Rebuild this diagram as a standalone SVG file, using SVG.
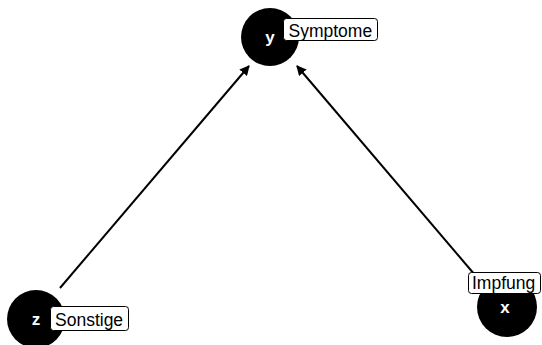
<svg xmlns="http://www.w3.org/2000/svg" width="542" height="345" viewBox="0 0 542 345">
<style>
.node{fill:#000}
.nt{fill:#fff;font-family:"Liberation Sans",Arial,sans-serif;font-size:17px;font-weight:bold;text-anchor:middle}
.lb{fill:#fff;stroke:#000;stroke-width:1}
.lt{fill:#000;font-family:"Liberation Sans",Arial,sans-serif;font-size:17.5px}
.edge{stroke:#000;stroke-width:2;fill:none;marker-end:url(#ah)}
</style>
<defs>
<marker id="ah" viewBox="0 0 10 10" refX="9" refY="5" markerWidth="5" markerHeight="5" orient="auto" markerUnits="strokeWidth">
<path d="M0,0 L10,5 L0,10 z" fill="#000"/>
</marker>
</defs>
<rect width="542" height="345" fill="#fff"/>
<g id="connectors">
<line class="edge" x1="60" y1="288" x2="249" y2="66"/>
<line class="edge" x1="475" y1="275" x2="297" y2="66"/>
</g>
<g id="node-y">
<circle class="node" cx="270" cy="37" r="29"/>
<text class="nt" x="270" y="43">y</text>
<rect class="lb" x="283.5" y="18.5" width="94" height="22" rx="3"/>
<text class="lt" x="288.5" y="36.5">Symptome</text>
</g>
<g id="node-z">
<circle class="node" cx="36" cy="319" r="29"/>
<text class="nt" x="36" y="325">z</text>
<rect class="lb" x="50.5" y="306.5" width="78" height="24" rx="3"/>
<text class="lt" x="55" y="326">Sonstige</text>
</g>
<g id="node-x">
<circle class="node" cx="507" cy="307" r="30"/>
<text class="nt" x="505" y="313">x</text>
<rect class="lb" x="468.5" y="272.5" width="72" height="21" rx="3"/>
<text class="lt" x="472" y="289">Impfung</text>
</g>
</svg>
